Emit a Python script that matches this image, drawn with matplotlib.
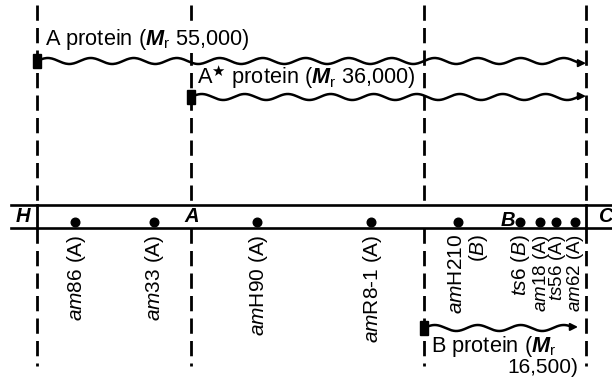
import numpy as np
import matplotlib
matplotlib.use('Agg')
import matplotlib.pyplot as plt
from matplotlib.patches import Rectangle

plt.rcParams['font.family'] = 'Liberation Sans'
plt.rcParams['mathtext.fontset'] = 'custom'
plt.rcParams['mathtext.rm'] = 'Liberation Sans'
plt.rcParams['mathtext.it'] = 'Liberation Sans:italic'
plt.rcParams['mathtext.bf'] = 'Liberation Sans:bold'
plt.rcParams['mathtext.bfit'] = 'Liberation Sans:italic:bold'
plt.rcParams['mathtext.fallback'] = 'stixsans'

# gene map (pixel layout of the original figure)
gene_names = ['H', 'A', 'B', 'C']
gene_x = [23, 192, 508, 605]
boundary_x = [37, 191, 424, 586]

mutant_prefix = ['am', 'am', 'am', 'am', 'am', 'ts', 'am', 'ts', 'am']
mutant_suffix = ['86', '33', 'H90', 'R8-1', 'H210', '6', '18', '56', '62']
mutant_gene = ['A', 'A', 'A', 'A', 'B', 'B', 'A', 'A', 'A']
mutant_x = [75, 154, 257, 371, 458, 520, 540, 556, 575]

protein_names = ['A', r'A$^{\bigstar}$', 'B']
protein_mr = ['55,000', '36,000', '16,500']
protein_start = [37, 191, 424]
protein_end = [586, 586, 578]
protein_y = [61, 97, 328]

BAND_TOP, BAND_BOT = 205, 228
MR = r'$\mathbfit{M}_{\mathrm{r}}$'


def wavy(ax, x0, x1, y0, period=43.0, amp=3.0):
    """Draw a wavy line from x0 to x1 ending in an arrow head."""
    x = np.linspace(x0, x1 - 6, 400)
    y = y0 - amp * np.sin(2 * np.pi * (x - x0) / period)
    ax.plot(x, y, color='k', lw=1.8, solid_capstyle='round')
    ax.annotate('', xy=(x1, y[-1]), xytext=(x1 - 8, y[-1]),
                arrowprops=dict(arrowstyle='-|>', color='k', lw=1.4,
                                mutation_scale=11, shrinkA=0, shrinkB=0))
    ax.add_patch(Rectangle((x0 - 4, y0 - 7), 7.5, 14, color='k', zorder=3))


fig = plt.figure(figsize=(6.12, 3.79), dpi=100)
ax = fig.add_axes([0, 0, 1, 1])
ax.set_xlim(0, 612)
ax.set_ylim(379, 0)
ax.axis('off')

# dashed gene boundaries, broken across the map band
for bx in boundary_x:
    for ya, yb in [(5, BAND_TOP), (BAND_BOT, 366)]:
        ax.plot([bx, bx], [ya, yb], color='k', lw=2,
                dashes=(5.5, 2.6), solid_capstyle='butt')

# the map band
ax.plot([11, 612], [BAND_TOP, BAND_TOP], color='k', lw=1.9)
ax.plot([11, 612], [BAND_BOT, BAND_BOT], color='k', lw=1.9)
for bx in [boundary_x[0], boundary_x[-1]]:
    ax.plot([bx, bx], [BAND_TOP, BAND_BOT], color='k', lw=2)

for name, gx in zip(gene_names, gene_x):
    yy = 220 if name == 'B' else 217
    ax.text(gx, yy, name, ha='center', va='center', fontsize=14.5,
            fontweight='bold', style='italic')

# mutation sites
ax.plot(mutant_x, [222] * len(mutant_x), 'o', color='k', ms=6.2)
for pre, suf, gene, mx in zip(mutant_prefix, mutant_suffix, mutant_gene, mutant_x):
    g = r'$\mathit{B}$' if gene == 'B' else gene
    # the last three sites sit very close together
    fs = 13.5 if mx > 530 else 15
    if suf == 'H210':
        ax.text(mx - 2, 234, rf'$\mathit{{{pre}}}${suf}', rotation=90,
                ha='center', va='top', fontsize=fs)
        ax.text(mx + 20, 234, f'({g})', rotation=90,
                ha='center', va='top', fontsize=fs)
    else:
        ax.text(mx + 1, 234, rf'$\mathit{{{pre}}}${suf} ({g})', rotation=90,
                ha='center', va='top', fontsize=fs)

# proteins
for name, mr, xs, xe, py in zip(protein_names, protein_mr, protein_start,
                                protein_end, protein_y):
    wavy(ax, xs, xe, py)

# the A label breaks the dashed line it crosses
ax.text(45, 45, f'A protein ({MR} 55,000)', fontsize=15.7, va='baseline',
        zorder=4, bbox=dict(facecolor='white', edgecolor='none', pad=1))
ax.text(197, 84, r'A$^{\bigstar}$' + f' protein ({MR} 36,000)', fontsize=15.7,
        va='baseline')
ax.text(431, 352, f'B protein ({MR}', fontsize=15.7, va='baseline')
ax.text(578, 373, '16,500)', fontsize=15, va='baseline', ha='right')

fig.savefig('out.png', dpi=100)
